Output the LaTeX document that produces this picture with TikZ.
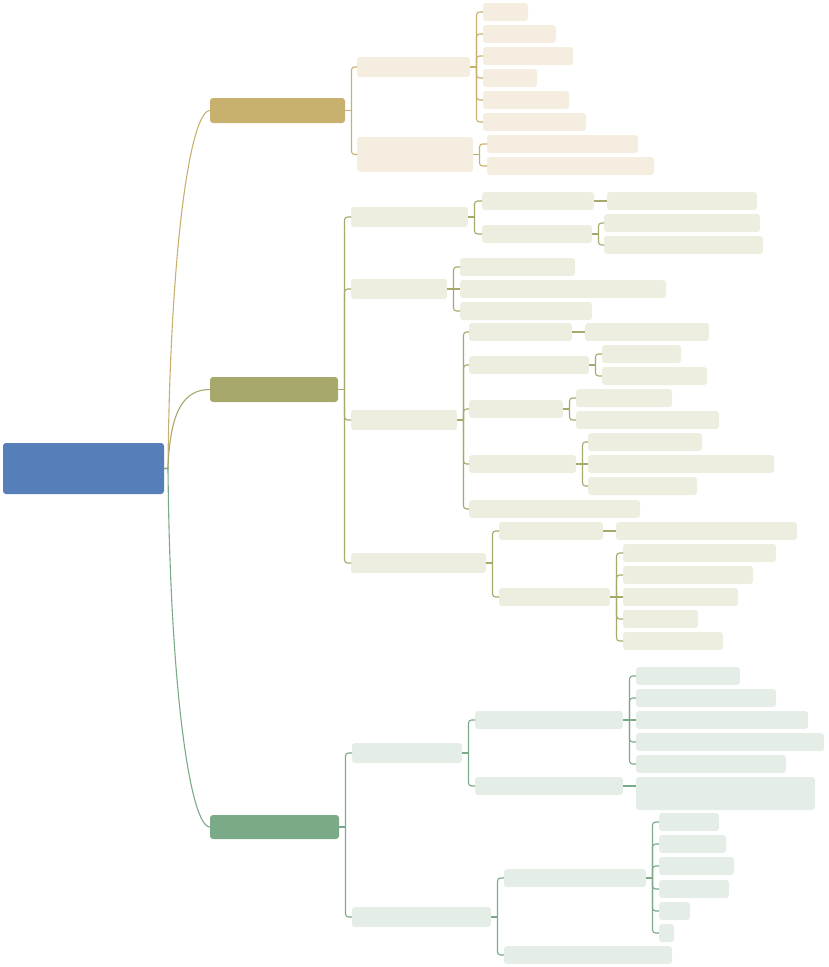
\documentclass[tikz,border=0pt]{standalone}
\usepackage{tikz}
\usetikzlibrary{calc}
\definecolor{rootblue}{HTML}{567FB9}
\definecolor{gold}{HTML}{C8B06E}
\definecolor{goldlight}{HTML}{F4EDE0}
\definecolor{olive}{HTML}{A7A86B}
\definecolor{olivelight}{HTML}{EDEDE0}
\definecolor{sage}{HTML}{7AAA88}
\definecolor{sagelight}{HTML}{E4EDE6}
\tikzstyle{card} = [rectangle,
rounded corners=3pt,
anchor=north west,
inner sep=0pt,
outer sep=0pt]
\tikzstyle{goldleaf} = [card, fill=goldlight, minimum height=18pt]
\tikzstyle{oliveleaf} = [card, fill=olivelight, minimum height=18pt]
\tikzstyle{sageleaf} = [card, fill=sagelight, minimum height=18pt]
\tikzstyle{goldline} = [draw=gold, line width=1.1pt]
\tikzstyle{oliveline} = [draw=olive, line width=1.1pt]
\tikzstyle{sageline} = [draw=sage, line width=1.1pt]
% bracket from a parent to one child
\newcommand{\fork}[3]{%
  \draw[#1] (#2.east) -- ++(6.5,0);
  \draw[#1, rounded corners=3pt] ($(#2.east)+(6.5,0)$) |- (#3.west);}
% straight link to a child at the same height
\newcommand{\straight}[3]{\draw[#1] (#2.east) -- (#2.east -| #3.west);}

\begin{document}
\begin{tikzpicture}[x=1pt, y=-1pt]
    \useasboundingbox (0,0) rectangle (828,967);

    \node (root) [card, fill=rootblue, minimum width=161pt, minimum height=51pt] at (3,443) {};

    \node (br1) [card, fill=gold, minimum width=135pt, minimum height=25pt] at (210,98) {};
    \node (br2) [card, fill=olive, minimum width=128pt, minimum height=25pt] at (210,377) {};
    \node (br3) [card, fill=sage, minimum width=129pt, minimum height=24pt] at (210,815) {};

    % root curves
    \draw [goldline] (root.east) -- ++(4,0) .. controls +(2,-218) and +(-20,0) .. (br1.west);
    \draw [oliveline] (root.east) -- ++(4,0) .. controls +(2,-60) and +(-25,0) .. (br2.west);
    \draw [sageline] (root.east) -- ++(4,0) .. controls +(2,218) and +(-20,0) .. (br3.west);

    % gold branch
    \node (t1) [goldleaf, minimum width=113pt, minimum height=20pt] at (357,57) {};
    \node (t2) [goldleaf, minimum width=116pt, minimum height=35pt] at (357,137) {};
    \node (t1a) [goldleaf, minimum width=45pt] at (483,3) {};
    \node (t1b) [goldleaf, minimum width=73pt] at (483,25) {};
    \node (t1c) [goldleaf, minimum width=90pt] at (483,47) {};
    \node (t1d) [goldleaf, minimum width=54pt] at (483,69) {};
    \node (t1e) [goldleaf, minimum width=86pt] at (483,91) {};
    \node (t1f) [goldleaf, minimum width=103pt] at (483,113) {};
    \node (t2a) [goldleaf, minimum width=151pt] at (487,135) {};
    \node (t2b) [goldleaf, minimum width=167pt] at (487,157) {};

    \fork{goldline}{br1}{t1}
    \fork{goldline}{br1}{t2}
    \foreach \k in {t1a,t1b,t1c,t1d,t1e,t1f} {\fork{goldline}{t1}{\k}}
    \fork{goldline}{t2}{t2a}
    \fork{goldline}{t2}{t2b}

    % olive branch
    \node (m1) [oliveleaf, minimum width=117pt, minimum height=20pt] at (351,207) {};
    \node (m2) [oliveleaf, minimum width=96pt, minimum height=20pt] at (351,279) {};
    \node (m3) [oliveleaf, minimum width=106pt, minimum height=20pt] at (351,410) {};
    \node (m4) [oliveleaf, minimum width=135pt, minimum height=20pt] at (351,553) {};

    \node (m1a) [oliveleaf, minimum width=112pt] at (482,192) {};
    \node (m1a1) [oliveleaf, minimum width=150pt] at (607,192) {};
    \node (m1b) [oliveleaf, minimum width=110pt] at (482,225) {};
    \node (m1b1) [oliveleaf, minimum width=156pt] at (604,214) {};
    \node (m1b2) [oliveleaf, minimum width=159pt] at (604,236) {};

    \node (m2a) [oliveleaf, minimum width=115pt] at (460,258) {};
    \node (m2b) [oliveleaf, minimum width=206pt] at (460,280) {};
    \node (m2c) [oliveleaf, minimum width=132pt] at (460,302) {};

    \node (m3a) [oliveleaf, minimum width=103pt] at (469,323) {};
    \node (m3a1) [oliveleaf, minimum width=124pt] at (585,323) {};
    \node (m3b) [oliveleaf, minimum width=120pt] at (469,356) {};
    \node (m3b1) [oliveleaf, minimum width=79pt] at (602,345) {};
    \node (m3b2) [oliveleaf, minimum width=105pt] at (602,367) {};
    \node (m3c) [oliveleaf, minimum width=94pt] at (469,400) {};
    \node (m3c1) [oliveleaf, minimum width=96pt] at (576,389) {};
    \node (m3c2) [oliveleaf, minimum width=143pt] at (576,411) {};
    \node (m3d) [oliveleaf, minimum width=107pt] at (469,455) {};
    \node (m3d1) [oliveleaf, minimum width=114pt] at (588,433) {};
    \node (m3d2) [oliveleaf, minimum width=186pt] at (588,455) {};
    \node (m3d3) [oliveleaf, minimum width=109pt] at (588,477) {};
    \node (m3e) [oliveleaf, minimum width=171pt] at (469,500) {};

    \node (m4a) [oliveleaf, minimum width=104pt] at (499,522) {};
    \node (m4a1) [oliveleaf, minimum width=181pt] at (616,522) {};
    \node (m4b) [oliveleaf, minimum width=111pt] at (499,588) {};
    \node (m4b1) [oliveleaf, minimum width=153pt] at (623,544) {};
    \node (m4b2) [oliveleaf, minimum width=130pt] at (623,566) {};
    \node (m4b3) [oliveleaf, minimum width=115pt] at (623,588) {};
    \node (m4b4) [oliveleaf, minimum width=75pt] at (623,610) {};
    \node (m4b5) [oliveleaf, minimum width=100pt] at (623,632) {};

    \foreach \k in {m1,m2,m3,m4} {\fork{oliveline}{br2}{\k}}
    \fork{oliveline}{m1}{m1a}
    \fork{oliveline}{m1}{m1b}
    \straight{oliveline}{m1a}{m1a1}
    \fork{oliveline}{m1b}{m1b1}
    \fork{oliveline}{m1b}{m1b2}
    \fork{oliveline}{m2}{m2a}
    \straight{oliveline}{m2}{m2b}
    \fork{oliveline}{m2}{m2c}
    \foreach \k in {m3a,m3b,m3c,m3d,m3e} {\fork{oliveline}{m3}{\k}}
    \straight{oliveline}{m3a}{m3a1}
    \fork{oliveline}{m3b}{m3b1}
    \fork{oliveline}{m3b}{m3b2}
    \fork{oliveline}{m3c}{m3c1}
    \fork{oliveline}{m3c}{m3c2}
    \fork{oliveline}{m3d}{m3d1}
    \straight{oliveline}{m3d}{m3d2}
    \fork{oliveline}{m3d}{m3d3}
    \fork{oliveline}{m4}{m4a}
    \fork{oliveline}{m4}{m4b}
    \straight{oliveline}{m4a}{m4a1}
    \foreach \k in {m4b1,m4b2,m4b4,m4b5} {\fork{oliveline}{m4b}{\k}}
    \straight{oliveline}{m4b}{m4b3}

    % sage branch
    \node (s1) [sageleaf, minimum width=110pt, minimum height=20pt] at (352,743) {};
    \node (s2) [sageleaf, minimum width=139pt, minimum height=20pt] at (352,907) {};

    \node (s1a) [sageleaf, minimum width=148pt] at (475,711) {};
    \node (s1a1) [sageleaf, minimum width=104pt] at (636,667) {};
    \node (s1a2) [sageleaf, minimum width=140pt] at (636,689) {};
    \node (s1a3) [sageleaf, minimum width=172pt] at (636,711) {};
    \node (s1a4) [sageleaf, minimum width=188pt] at (636,733) {};
    \node (s1a5) [sageleaf, minimum width=150pt] at (636,755) {};
    \node (s1b) [sageleaf, minimum width=148pt] at (475,777) {};
    \node (s1b1) [sageleaf, minimum width=179pt, minimum height=33pt] at (636,777) {};

    \node (s2a) [sageleaf, minimum width=142pt] at (504,869) {};
    \node (s2a1) [sageleaf, minimum width=60pt] at (659,813) {};
    \node (s2a2) [sageleaf, minimum width=67pt] at (659,835) {};
    \node (s2a3) [sageleaf, minimum width=75pt] at (659,857) {};
    \node (s2a4) [sageleaf, minimum width=70pt] at (659,880) {};
    \node (s2a5) [sageleaf, minimum width=31pt] at (659,902) {};
    \node (s2a6) [sageleaf, minimum width=15pt] at (659,924) {};
    \node (s2b) [sageleaf, minimum width=168pt] at (504,946) {};

    \fork{sageline}{br3}{s1}
    \fork{sageline}{br3}{s2}
    \fork{sageline}{s1}{s1a}
    \fork{sageline}{s1}{s1b}
    \foreach \k in {s1a1,s1a2,s1a4,s1a5} {\fork{sageline}{s1a}{\k}}
    \straight{sageline}{s1a}{s1a3}
    \straight{sageline}{s1b}{s1b1}
    \fork{sageline}{s2}{s2a}
    \fork{sageline}{s2}{s2b}
    \foreach \k in {s2a1,s2a2,s2a3,s2a4,s2a5,s2a6} {\fork{sageline}{s2a}{\k}}
\end{tikzpicture}
\end{document}
